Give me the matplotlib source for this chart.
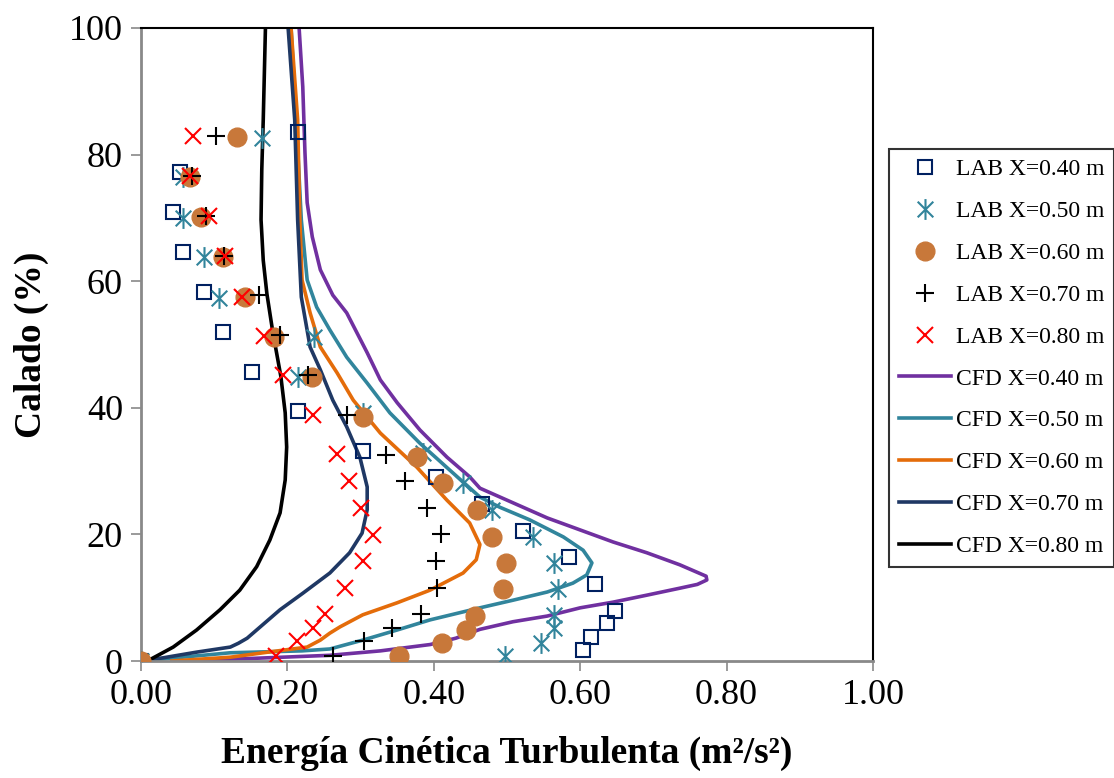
import matplotlib
matplotlib.use("Agg")
import matplotlib.pyplot as plt
from matplotlib.path import Path

plt.rcParams['font.family'] = ['Liberation Serif', 'DejaVu Serif']

# ---- LAB data (x = TKE, y = calado %) ----
lab40_x = [0.214, 0.053, 0.044, 0.057, 0.086, 0.112, 0.152, 0.214, 0.303, 0.403, 0.466, 0.522, 0.585, 0.620, 0.648, 0.637, 0.615, 0.604, 0.0]
lab40_y = [83.6, 77.3, 70.9, 64.6, 58.3, 52.0, 45.7, 39.5, 33.2, 29.1, 24.8, 20.5, 16.4, 12.2, 7.9, 6.0, 3.8, 1.7, 0.0]

lab50_x = [0.165, 0.057, 0.057, 0.086, 0.107, 0.236, 0.214, 0.303, 0.385, 0.440, 0.479, 0.535, 0.564, 0.570, 0.564, 0.564, 0.546, 0.497, 0.0]
lab50_y = [82.6, 76.5, 70.0, 63.8, 57.3, 51.2, 44.9, 39.2, 32.9, 28.1, 23.9, 19.6, 15.5, 11.4, 7.3, 5.2, 2.8, 0.8, 0.0]

lab60_x = [0.131, 0.067, 0.082, 0.112, 0.142, 0.182, 0.234, 0.303, 0.377, 0.413, 0.459, 0.479, 0.499, 0.494, 0.456, 0.444, 0.411, 0.352, 0.0]
lab60_y = [82.8, 76.5, 70.1, 63.8, 57.5, 51.2, 44.9, 38.5, 32.3, 28.1, 23.9, 19.6, 15.5, 11.4, 7.1, 4.9, 2.8, 0.8, 0.0]

lab70_x = [0.102, 0.070, 0.089, 0.113, 0.161, 0.190, 0.228, 0.281, 0.335, 0.361, 0.391, 0.410, 0.403, 0.404, 0.382, 0.343, 0.305, 0.262]
lab70_y = [82.9, 76.6, 70.3, 64.0, 57.8, 51.5, 45.2, 38.9, 32.5, 28.4, 24.2, 20.1, 15.8, 11.5, 7.4, 5.2, 3.2, 0.8]

lab80_x = [0.071, 0.067, 0.093, 0.115, 0.138, 0.168, 0.194, 0.235, 0.268, 0.284, 0.301, 0.317, 0.303, 0.279, 0.251, 0.235, 0.213, 0.184]
lab80_y = [82.9, 76.6, 70.3, 64.0, 57.5, 51.3, 45.2, 38.9, 32.7, 28.4, 24.2, 19.9, 15.8, 11.5, 7.4, 5.2, 3.2, 0.8]

# ---- CFD profiles ----
cfd40_x = [0.047, 0.150, 0.258, 0.327, 0.395, 0.430, 0.463, 0.508, 0.555, 0.600, 0.645, 0.691, 0.736, 0.760, 0.773, 0.772, 0.760,
           0.736, 0.691, 0.645, 0.600, 0.555, 0.508, 0.463, 0.449, 0.418, 0.381, 0.350, 0.327, 0.309, 0.281, 0.262,
           0.245, 0.234, 0.227, 0.224, 0.221, 0.216]
cfd40_y = [0.0, 0.4, 0.9, 1.6, 2.6, 3.6, 5.0, 6.2, 7.1, 8.4, 9.3, 10.4, 11.5, 12.1, 12.8, 13.4, 14.0,
           15.2, 17.1, 18.8, 20.7, 22.6, 25.0, 27.3, 29.1, 32.2, 36.5, 40.8, 44.4, 48.7, 55.0, 57.8,
           61.8, 67.0, 72.4, 80.3, 90.7, 100.0]

cfd50_x = [0.0, 0.122, 0.220, 0.258, 0.303, 0.350, 0.395, 0.463, 0.508, 0.555, 0.590, 0.609, 0.616, 0.604, 0.577, 0.531,
           0.490, 0.463, 0.432, 0.381, 0.340, 0.309, 0.281, 0.258, 0.240, 0.227, 0.219, 0.212, 0.205]
cfd50_y = [0.0, 1.3, 1.6, 1.9, 3.3, 4.9, 6.5, 8.4, 9.6, 10.9, 12.3, 13.6, 15.5, 17.5, 19.6, 22.3,
           24.3, 25.9, 29.1, 34.4, 39.2, 43.9, 48.0, 52.3, 55.9, 60.2, 69.7, 85.5, 100.0]

cfd60_x = [0.042, 0.122, 0.167, 0.227, 0.245, 0.258, 0.272, 0.303, 0.350, 0.395, 0.440, 0.458, 0.463, 0.449, 0.418,
           0.377, 0.327, 0.290, 0.268, 0.245, 0.231, 0.220, 0.217, 0.214, 0.205]
cfd60_y = [0.0, 0.6, 1.3, 2.2, 3.3, 4.4, 5.4, 7.3, 9.2, 11.2, 13.9, 16.0, 18.4, 21.8, 25.4,
           30.6, 36.0, 41.2, 45.5, 49.6, 55.0, 60.2, 69.7, 85.5, 100.0]

cfd70_x = [0.0, 0.030, 0.076, 0.122, 0.133, 0.145, 0.163, 0.190, 0.221, 0.258, 0.285, 0.302, 0.309, 0.309, 0.299,
           0.281, 0.262, 0.245, 0.231, 0.219, 0.214, 0.210, 0.201]
cfd70_y = [0.0, 0.5, 1.4, 2.2, 2.8, 3.6, 5.4, 8.1, 10.7, 13.9, 17.1, 20.2, 23.9, 27.5, 32.2,
           37.0, 41.2, 46.0, 49.6, 57.5, 69.7, 85.5, 100.0]

cfd80_x = [0.0, 0.012, 0.044, 0.076, 0.108, 0.135, 0.158, 0.176, 0.190, 0.197, 0.199, 0.197, 0.191, 0.180, 0.172,
           0.167, 0.164, 0.165, 0.167, 0.170]
cfd80_y = [0.0, 0.2, 2.2, 4.9, 8.1, 11.2, 14.9, 19.1, 23.4, 28.6, 33.8, 39.2, 45.0, 52.0, 58.0,
           63.3, 69.7, 77.6, 85.5, 100.0]

x_ticks = [0.0, 0.2, 0.4, 0.6, 0.8, 1.0]
x_tick_labels = ["0.00", "0.20", "0.40", "0.60", "0.80", "1.00"]
y_ticks = [0, 20, 40, 60, 80, 100]

# Excel-like asterisk marker: vertical + X
ast = Path([(0, -1), (0, 1), (-0.75, -0.75), (0.75, 0.75), (-0.75, 0.75), (0.75, -0.75)],
           [Path.MOVETO, Path.LINETO, Path.MOVETO, Path.LINETO, Path.MOVETO, Path.LINETO])

fig = plt.figure(figsize=(11.14, 7.78), dpi=100)
ax = fig.add_axes([141/1114, 1-661/778, (873-141)/1114, (661-28)/778])

ax.plot(lab40_x, lab40_y, ls='none', marker='s', ms=9.5, mfc='none', mec='#002060', mew=1.5, label='LAB X=0.40 m', zorder=3)
ax.plot(lab50_x, lab50_y, ls='none', marker=ast, ms=15, mec='#31849B', mew=1.5, label='LAB X=0.50 m', zorder=3)
ax.plot(lab60_x, lab60_y, ls='none', marker='o', ms=13.5, mfc='#C8783A', mec='#C8783A', label='LAB X=0.60 m', zorder=3)
ax.plot(lab70_x, lab70_y, ls='none', marker='+', ms=13, mec='black', mew=1.5, label='LAB X=0.70 m', zorder=3)
ax.plot(lab80_x, lab80_y, ls='none', marker='x', ms=12, mec='#FF0000', mew=1.5, label='LAB X=0.80 m', zorder=3)

lw = 2.6
ax.plot(cfd40_x, cfd40_y, color='#7030A0', lw=lw, label='CFD X=0.40 m', zorder=2, solid_joinstyle='round')
ax.plot(cfd50_x, cfd50_y, color='#31859C', lw=lw, label='CFD X=0.50 m', zorder=2, solid_joinstyle='round')
ax.plot(cfd60_x, cfd60_y, color='#E46C0A', lw=lw, label='CFD X=0.60 m', zorder=2, solid_joinstyle='round')
ax.plot(cfd70_x, cfd70_y, color='#1F3864', lw=lw, label='CFD X=0.70 m', zorder=2, solid_joinstyle='round')
ax.plot(cfd80_x, cfd80_y, color='black', lw=lw, label='CFD X=0.80 m', zorder=2, solid_joinstyle='round')

ax.set_xlim(0, 1.0)
ax.set_ylim(0, 100)
ax.set_xticks(x_ticks)
ax.set_xticklabels(x_tick_labels)
ax.set_yticks(y_ticks)
ax.tick_params(axis='both', direction='out', length=7, width=1.2, color='#898989', labelsize=26, pad=6)

for s in ['left', 'bottom']:
    ax.spines[s].set_color('#898989')
    ax.spines[s].set_linewidth(2)
for s in ['top', 'right']:
    ax.spines[s].set_color('black')
    ax.spines[s].set_linewidth(1.5)

ax.set_xlabel('Energía Cinética Turbulenta (m²/s²)', fontsize=27, fontweight='bold', labelpad=17)
ax.set_ylabel('Calado (%)', fontsize=27, fontweight='bold', labelpad=14)

leg = ax.legend(loc='upper left', bbox_to_anchor=(889/1114, 1-149/778), bbox_transform=fig.transFigure,
                borderaxespad=0, fontsize=17, frameon=True, fancybox=False, edgecolor='black',
                labelspacing=0.86, handlelength=2.2, handletextpad=0.2, borderpad=0.42, numpoints=1)
leg.get_frame().set_linewidth(1.5)

fig.savefig('out.png', dpi=100)
